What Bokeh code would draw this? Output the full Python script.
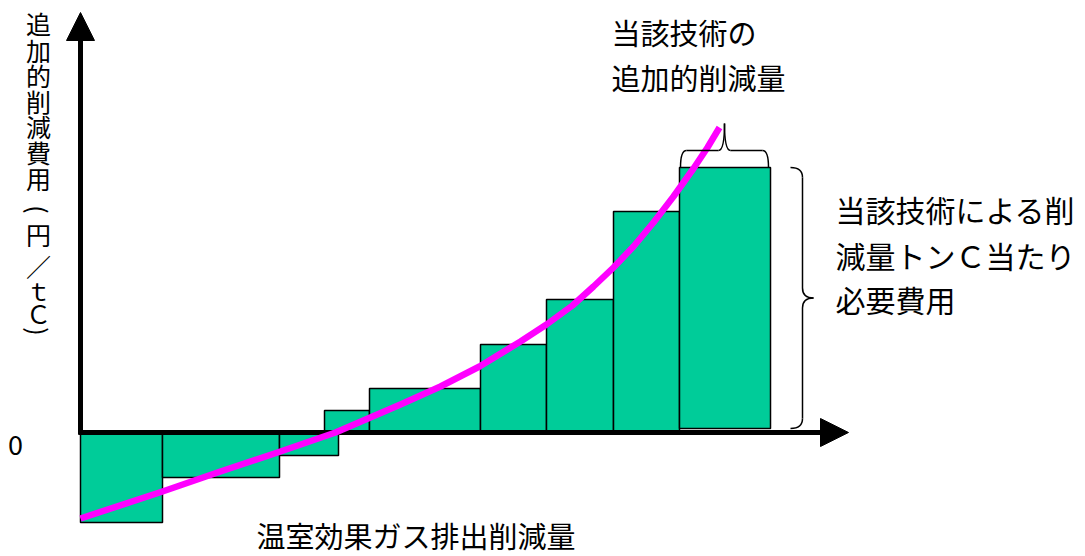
import math
from bokeh.plotting import figure
from bokeh.models import Range1d, Arrow, NormalHead
from bokeh.core.properties import value
from bokeh.embed import file_html
from bokeh.resources import INLINE

# ---- data (quantity = cumulative abatement, cost = additional cost per tC) ----
bar_left = [0, 82, 199, 244, 289, 400, 466, 533, 599]
bar_right = [82, 199, 258, 289, 400, 466, 533, 599, 690]
bar_cost = [-90, -45, -23, 22, 44, 88, 133, 221, 265]
bar_base = [0, 0, 0, 0, 0, 0, 0, 0, 4]

curve_q = [0, 82, 140, 200, 255, 320, 360, 399, 440, 466, 492, 513, 533, 553, 573, 593, 613, 627, 639]
curve_cost = [-86, -59, -39, -19, 0, 28, 46, 66, 91, 108, 127, 146, 165, 186, 210, 236, 264, 285, 305]

y_label = ["追", "加", "的", "削", "減", "費", "用", "(", "円", "／", "ｔ", "Ｃ", ")"]
x_label = "温室効果ガス排出削減量"
zero_label = "0"
top_note = ["当該技術の", "追加的削減量"]
right_note = ["当該技術による削", "減量トンＣ当たり", "必要費用"]

# ---- layout / style ----
FONT = "Noto Sans CJK JP"
GREEN = "#00CC99"
MAGENTA = "#FF00FF"
W, H = 1085, 556
OX, OY = 80, 432          # pixel position of the origin
ylab_px = [22, 49, 74, 100, 125, 151, 177, 209, 233, 265, 289, 312, 331]
ylab_rot = [0, 0, 0, 0, 0, 0, 0, -math.pi / 2, 0, 0, 0, 0, -math.pi / 2]

p = figure(width=W, height=H, x_range=Range1d(-OX, W - OX), y_range=Range1d(OY - H, OY),
           output_backend="svg", toolbar_location=None, min_border=0,
           x_axis_type=None, y_axis_type=None)
p.grid.visible = False
p.outline_line_color = None
p.background_fill_color = "white"

bars = p.quad(left=bar_left, right=bar_right, bottom=bar_base, top=bar_cost,
              fill_color=GREEN, line_color="black", line_width=1.5)
bars.level = "image"

# axes as arrows
xa = Arrow(end=NormalHead(size=28, fill_color="black", line_color="black"),
           x_start=-2, y_start=0, x_end=768, y_end=0, line_width=5, line_color="black")
ya = Arrow(end=NormalHead(size=28, fill_color="black", line_color="black"),
           x_start=0, y_start=-2, x_end=0, y_end=420, line_width=5, line_color="black")
xa.level = "underlay"
ya.level = "underlay"
p.add_layout(xa)
p.add_layout(ya)

# curve
p.line(curve_q, curve_cost, line_color=MAGENTA, line_width=6.5, line_join="round")

# braces derived from the last bar
def brace_h(x0, x1, yb, d, tip, r):
    xm = (x0 + x1) / 2
    segs = [(x0, yb, x0 + r, yb + d, x0, yb + d),
            (xm - r, yb + d, xm, yb + d + tip, xm, yb + d),
            (x1, yb, x1 - r, yb + d, x1, yb + d),
            (xm + r, yb + d, xm, yb + d + tip, xm, yb + d)]
    lines = [(x0 + r, yb + d, xm - r, yb + d), (xm + r, yb + d, x1 - r, yb + d)]
    return segs, lines

def brace_v(xb, y0, y1, d, tip, r):
    ym = (y0 + y1) / 2
    segs = [(xb, y0, xb + d, y0 + r, xb + d, y0),
            (xb + d, ym - r, xb + d + tip, ym, xb + d, ym),
            (xb, y1, xb + d, y1 - r, xb + d, y1),
            (xb + d, ym + r, xb + d + tip, ym, xb + d, ym)]
    lines = [(xb + d, y0 + r, xb + d, ym - r), (xb + d, ym + r, xb + d, y1 - r)]
    return segs, lines

lb, rb, tb, bb = bar_left[-1], bar_right[-1], bar_cost[-1], bar_base[-1]
s1, l1 = brace_h(lb + 1, rb - 2, tb, 17, 27, 6)
s2, l2 = brace_v(rb + 20, bb, tb, 12, 11, 10)
segs = s1 + s2
lines = l1 + l2
p.quadratic(x0=[s[0] for s in segs], y0=[s[1] for s in segs],
            x1=[s[2] for s in segs], y1=[s[3] for s in segs],
            cx=[s[4] for s in segs], cy=[s[5] for s in segs],
            line_color="black", line_width=1.5)
p.segment(x0=[s[0] for s in lines], y0=[s[1] for s in lines],
          x1=[s[2] for s in lines], y1=[s[3] for s in lines],
          line_color="black", line_width=1.5)

# texts
txt = dict(text_font=value(FONT), text_align="left", text_baseline="middle", text_color="black")
p.text(x=[531, 531], y=[OY - 31.5, OY - 76], text=top_note, text_font_size="29px", **txt)
p.text(x=[755, 755, 755], y=[OY - 208, OY - 254, OY - 298], text=right_note,
       text_font_size="30px", **txt)
p.text(x=[176], y=[OY - 534], text=[x_label], text_font_size="29px", **txt)
p.text(x=[-65], y=[OY - 444], text=[zero_label], text_font=value(FONT), text_font_size="27px",
       text_align="center", text_baseline="middle", text_color="black")
p.text(x=[-42] * len(y_label), y=[OY - v for v in ylab_px], text=y_label, angle=ylab_rot,
       text_font=value(FONT), text_font_size="25px", text_align="center",
       text_baseline="middle", text_color="black")

open("out.html", "w").write(file_html(p, INLINE))
